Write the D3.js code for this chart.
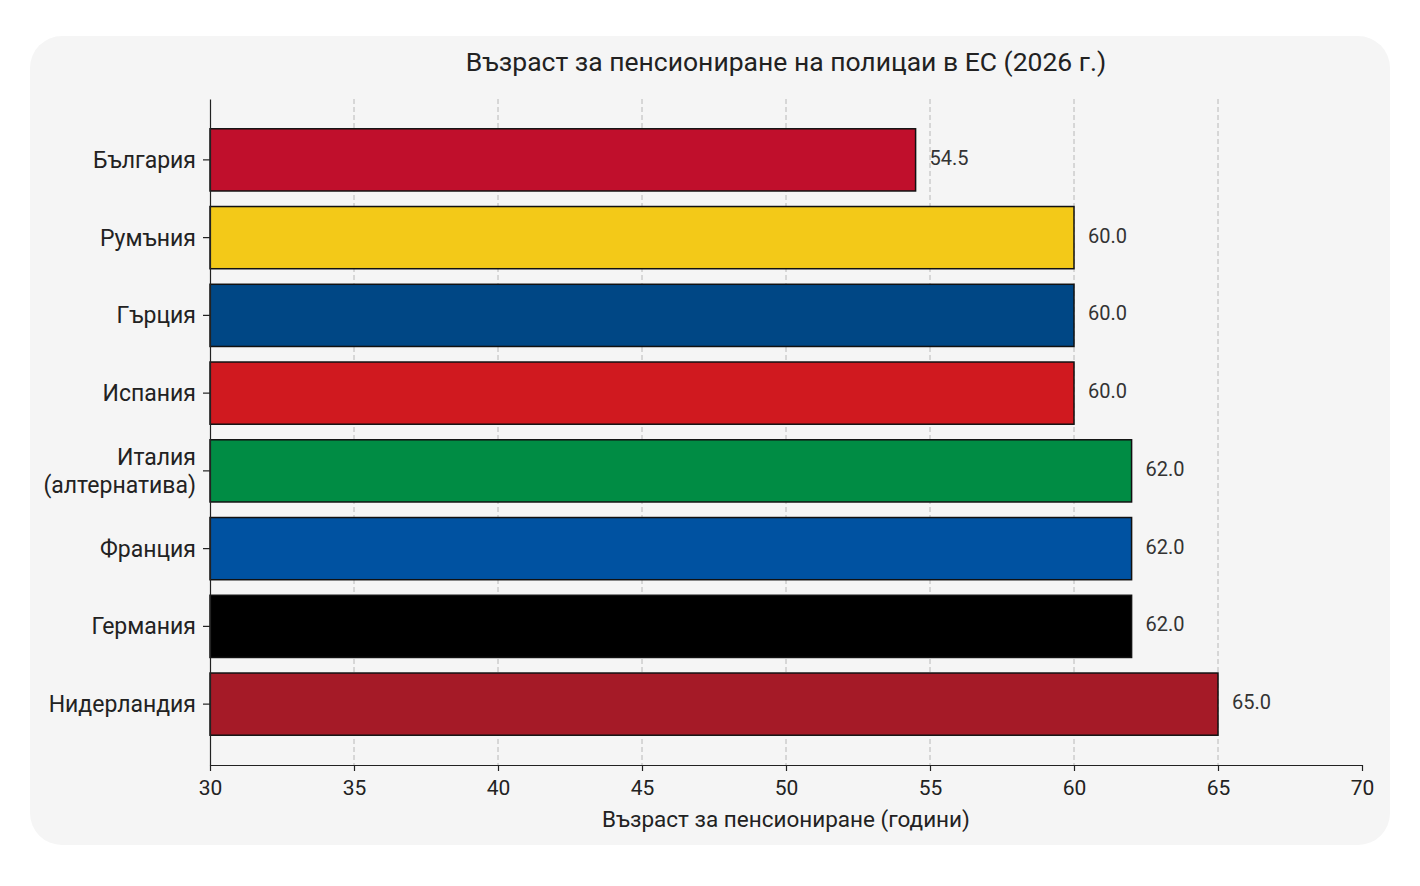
<!DOCTYPE html>
<html>
<head>
<meta charset="utf-8">
<script src="https://cdn.jsdelivr.net/npm/d3@7"></script>
<style>
  html, body { margin: 0; padding: 0; background: #ffffff; }
  svg { display: block; font-family: Roboto, "Open Sans", sans-serif; }
</style>
</head>
<body>
<svg id="chart" width="1420" height="886"></svg>
<script>
const countries = ["България", "Румъния", "Гърция", "Испания", "Италия\n(алтернатива)", "Франция", "Германия", "Нидерландия"];
const ages = [54.5, 60.0, 60.0, 60.0, 62.0, 62.0, 62.0, 65.0];
const barColors = ["#c00f2c", "#f3c918", "#004785", "#d0191f", "#008c44", "#0052a1", "#000000", "#a51a27"];
const xTicks = [30, 35, 40, 45, 50, 55, 60, 65, 70];
const titleText = "Възраст за пенсиониране на полицаи в ЕС (2026 г.)";
const xLabelText = "Възраст за пенсиониране (години)";

const svg = d3.select("#chart");

svg.append("rect")
  .attr("x", 30).attr("y", 36).attr("width", 1360).attr("height", 809)
  .attr("rx", 32).attr("ry", 32)
  .attr("fill", "#f5f5f5");

const x = d3.scaleLinear().domain([30, 70]).range([210, 1362]);
const y = d3.scaleBand().domain(countries).range([99, 765])
  .paddingInner(0.2).paddingOuter(0.383);

// gridlines
svg.append("g").selectAll("line")
  .data(xTicks.filter(t => t !== 30 && t !== 70))
  .join("line")
  .attr("x1", d => x(d)).attr("x2", d => x(d))
  .attr("y1", 99).attr("y2", 765)
  .attr("stroke", "#b8b8b8")
  .attr("stroke-width", 1)
  .attr("stroke-dasharray", "5,3");

// bars
svg.append("g").selectAll("rect")
  .data(countries)
  .join("rect")
  .attr("x", x(30))
  .attr("y", d => y(d))
  .attr("width", (d, i) => x(ages[i]) - x(30))
  .attr("height", y.bandwidth())
  .attr("fill", (d, i) => barColors[i])
  .attr("stroke", "#111")
  .attr("stroke-width", 1.5);

// value labels
svg.append("g").selectAll("text")
  .data(countries)
  .join("text")
  .attr("x", (d, i) => x(ages[i]) + 14)
  .attr("y", d => y(d) + y.bandwidth() / 2 - 2)
  .attr("dominant-baseline", "central")
  .attr("font-size", 20)
  .attr("fill", "#333")
  .text((d, i) => ages[i].toFixed(1));

// x axis
const xAxis = svg.append("g")
  .attr("transform", "translate(0,765)")
  .call(d3.axisBottom(x).tickValues(xTicks).tickSize(6).tickSizeOuter(0).tickPadding(9));
xAxis.selectAll("text").attr("font-size", 21).attr("fill", "#222").attr("font-family", "Roboto, sans-serif");
xAxis.selectAll("line").attr("stroke", "#222").attr("stroke-width", 1.2);
xAxis.select(".domain").attr("stroke", "#222").attr("stroke-width", 1.2);

// y axis
const yAxis = svg.append("g")
  .attr("transform", "translate(210,0)")
  .call(d3.axisLeft(y).tickSize(7).tickSizeOuter(0).tickPadding(7).tickFormat(""));
yAxis.selectAll("line").attr("stroke", "#222").attr("stroke-width", 1.2);
yAxis.select(".domain").attr("stroke", "#222").attr("stroke-width", 1.2);

yAxis.selectAll(".tick").each(function(d) {
  const lines = d.split("\n");
  const t = d3.select(this).select("text")
    .attr("font-size", 23).attr("fill", "#222")
    .attr("font-family", "Roboto, sans-serif")
    .attr("dy", null)
    .attr("dominant-baseline", "central");
  t.text(null);
  const off = (lines.length - 1) * 14;
  lines.forEach((ln, k) => {
    t.append("tspan").attr("x", -14).attr("y", -off + k * 28).text(ln);
  });
});

// title
svg.append("text")
  .attr("x", (x(30) + x(70)) / 2).attr("y", 61)
  .attr("text-anchor", "middle").attr("dominant-baseline", "central")
  .attr("font-size", 26.5).attr("fill", "#222")
  .text(titleText);

// x label
svg.append("text")
  .attr("x", (x(30) + x(70)) / 2).attr("y", 819)
  .attr("text-anchor", "middle").attr("dominant-baseline", "central")
  .attr("font-size", 22.5).attr("fill", "#222")
  .text(xLabelText);
</script>
</body>
</html>
